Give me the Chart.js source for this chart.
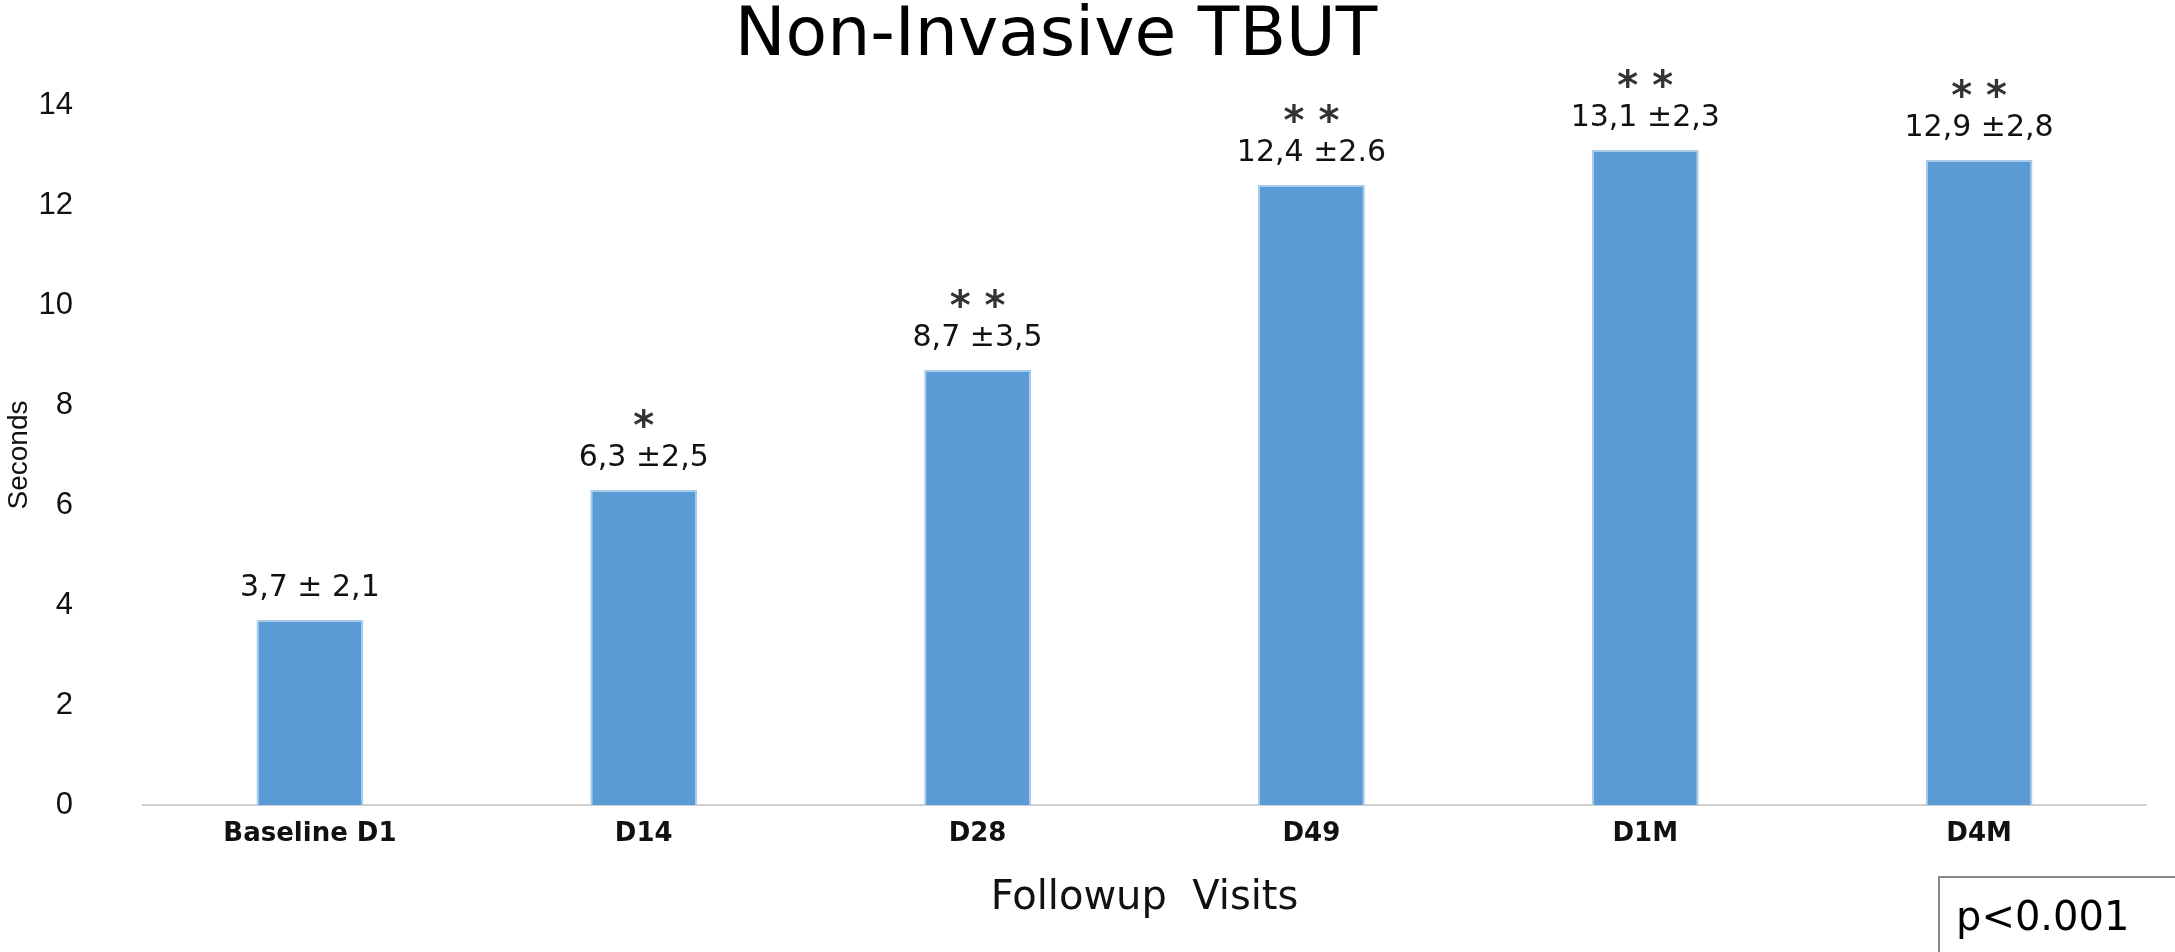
<!DOCTYPE html>
<html>
<head>
<meta charset="utf-8">
<title>Non-Invasive TBUT</title>
<script src="https://cdn.jsdelivr.net/npm/chart.js@4.4.1/dist/chart.umd.min.js"></script>
<style>
    html, body { margin: 0; padding: 0; background: #fff; }
    #wrap { width: 2175px; height: 952px; position: relative; }
</style>
</head>
<body>
<div id="wrap"><canvas id="tbutChart"></canvas></div>
<script>
// 数据
const visits = ['Baseline D1', 'D14', 'D28', 'D49', 'D1M', 'D4M'];
const meanSeconds = [3.7, 6.3, 8.7, 12.4, 13.1, 12.9];
const sdLabels = ['3,7 ± 2,1', '6,3 ±2,5', '8,7 ±3,5', '12,4 ±2.6', '13,1 ±2,3', '12,9 ±2,8'];
const stars = ['', '*', '* *', '* *', '* *', '* *'];
const yTicks = [0, 2, 4, 6, 8, 10, 12, 14];
const chartTitle = 'Non-Invasive TBUT';
const pValue = 'p<0.001';

// 柱顶标注、标题和 p 值框
const annotations = {
    id: 'annotations',
    afterDatasetsDraw(chart) {
        const ctx = chart.ctx;
        const bars = chart.getDatasetMeta(0).data;
        ctx.save();
        ctx.fillStyle = '#111';
        ctx.textAlign = 'center';
        bars.forEach((bar, i) => {
            ctx.font = '30px "DejaVu Sans"';
            ctx.textBaseline = 'middle';
            ctx.fillText(sdLabels[i], bar.x, bar.y - 32);
            if (stars[i]) {
                ctx.font = 'bold 40px "DejaVu Sans"';
                ctx.textBaseline = 'alphabetic';
                ctx.fillStyle = '#333';
                ctx.fillText(stars[i], bar.x, bar.y - 51);
                ctx.fillStyle = '#111';
            }
        });

        // 标题
        ctx.fillStyle = '#000';
        ctx.font = '68px "DejaVu Sans"';
        ctx.textBaseline = 'alphabetic';
        ctx.fillText(chartTitle, 1056, 55);

        // p 值框
        ctx.strokeStyle = '#888';
        ctx.lineWidth = 2;
        ctx.beginPath();
        ctx.moveTo(1939, chart.height);
        ctx.lineTo(1939, 877);
        ctx.lineTo(chart.width, 877);
        ctx.stroke();
        ctx.textAlign = 'left';
        ctx.font = '40px "DejaVu Sans"';
        ctx.fillText(pValue, 1956, 930);
        ctx.restore();
    }
};

new Chart(document.getElementById('tbutChart'), {
    type: 'bar',
    data: {
        labels: visits,
        datasets: [{
            data: meanSeconds,
            backgroundColor: '#5B9BD5',
            borderColor: '#A9CBEA',
            borderWidth: 2,
            categoryPercentage: 1,
            barPercentage: 0.32
        }]
    },
    options: {
        responsive: true,
        maintainAspectRatio: false,
        animation: false,
        layout: { padding: { top: 105, right: 29, left: 0, bottom: 0 } },
        plugins: {
            legend: { display: false },
            tooltip: { enabled: false }
        },
        scales: {
            x: {
                grid: { display: false, drawTicks: false },
                border: { display: true, color: '#cfcfcf', width: 2, dash: [4, 4] },
                ticks: {
                    color: '#111',
                    padding: 14,
                    font: { family: '"DejaVu Sans"', size: 26, weight: 'bold' }
                },
                title: {
                    display: true,
                    text: 'Followup  Visits',
                    color: '#111',
                    font: { family: '"DejaVu Sans"', size: 40 },
                    padding: { top: 0, bottom: 29 }
                },
                afterFit(scale) { scale.height = 147; }
            },
            y: {
                min: yTicks[0],
                max: yTicks[yTicks.length - 1],
                grid: { display: false, drawTicks: false },
                border: { display: false },
                ticks: {
                    stepSize: yTicks[1] - yTicks[0],
                    color: '#111',
                    padding: 70,
                    font: { family: '"Liberation Sans"', size: 31 }
                },
                title: {
                    display: true,
                    text: 'Seconds',
                    color: '#111',
                    font: { family: '"Liberation Sans"', size: 28 },
                    padding: { top: 2, bottom: 0 }
                },
                afterFit(scale) { scale.width = 143; }
            }
        }
    },
    plugins: [annotations]
});
</script>
</body>
</html>
